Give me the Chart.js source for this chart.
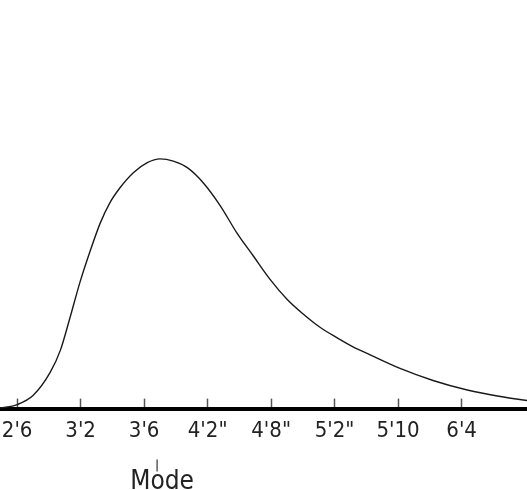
<!DOCTYPE html>
<html>
<head>
<meta charset="utf-8">
<script src="https://cdn.jsdelivr.net/npm/chart.js@4/dist/chart.umd.min.js"></script>
<style>
  body { margin: 0; background: #fff; }
</style>
</head>
<body>
<canvas id="dist" width="527" height="490"></canvas>
<script>
// tick positions are evenly spaced, so x is "tick index" not inches
var tickLabels = ["2'6", "3'2", "3'6", "4'2\"", "4'8\"", "5'2\"", "5'10", "6'4"]
var curveX = [-0.27, 0, 0.25, 0.52, 0.68, 0.83, 0.99, 1.15, 1.31, 1.46, 1.62, 1.83, 2.05, 2.25, 2.46, 2.68, 2.93, 3.20, 3.46, 3.72, 3.98, 4.25, 4.50, 4.77, 5.04, 5.29, 5.56, 6.03, 6.55, 7.09, 7.61, 8.03]
var curveY = [0.3, 4, 13, 36, 58, 90, 126, 157, 185, 205, 220, 235, 245, 248.7, 246.5, 240, 225, 202, 175, 152, 129, 109, 94.5, 81, 70.5, 61.5, 53.5, 40, 28, 18.5, 12, 8]
var modeAt = 2.22
var modeText = 'Mode'
var labelFont = '"DejaVu Sans Condensed", Roboto, sans-serif'

var points = []
for (var i = 0; i < curveX.length; i++) {
    points.push({ x: curveX[i], y: curveY[i] })
}

// little "|" + Mode note under the peak
var modeNote = {
    id: 'modeNote',
    afterDraw: function (chart) {
        var xs = chart.scales.x
        var ctx = chart.ctx
        var px = xs.getPixelForValue(modeAt)
        ctx.save()
        ctx.strokeStyle = '#333'
        ctx.lineWidth = 1.2
        ctx.beginPath()
        ctx.moveTo(px - 1, xs.top + 51)
        ctx.lineTo(px - 1, xs.top + 63)
        ctx.stroke()
        ctx.fillStyle = '#222'
        ctx.font = '26px ' + labelFont
        ctx.textAlign = 'center'
        ctx.textBaseline = 'alphabetic'
        ctx.fillText(modeText, px + 4, xs.top + 80)
        ctx.restore()
    }
}

var ctx = document.getElementById('dist').getContext('2d')
var chart = new Chart(ctx, {
    type: 'line',
    data: {
        datasets: [{
            data: points,
            borderColor: '#1a1a1a',
            borderWidth: 1.4,
            pointRadius: 0,
            fill: false,
            cubicInterpolationMode: 'monotone'
        }]
    },
    options: {
        responsive: false,
        animation: false,
        layout: { padding: { left: 0, right: 0, top: 0, bottom: 27 } },
        plugins: { legend: { display: false }, tooltip: { enabled: false } },
        scales: {
            x: {
                type: 'linear',
                min: -0.27,
                max: 8.03,
                afterBuildTicks: function (s) {
                    s.ticks = tickLabels.map(function (t, i) { return { value: i } })
                },
                afterFit: function (s) {
                    s.paddingLeft = 0
                    s.paddingRight = 0
                },
                grid: {
                    drawOnChartArea: false,
                    drawTicks: true,
                    tickLength: -10,
                    tickWidth: 1.5,
                    tickColor: '#555'
                },
                border: { display: true, color: '#000', width: 4 },
                ticks: {
                    padding: 19,
                    maxRotation: 0,
                    autoSkip: false,
                    color: '#222',
                    font: { family: labelFont, size: 22 },
                    callback: function (v) { return tickLabels[v] }
                }
            },
            y: {
                display: false,
                min: 0,
                max: 407
            }
        }
    },
    plugins: [modeNote]
})
</script>
</body>
</html>
